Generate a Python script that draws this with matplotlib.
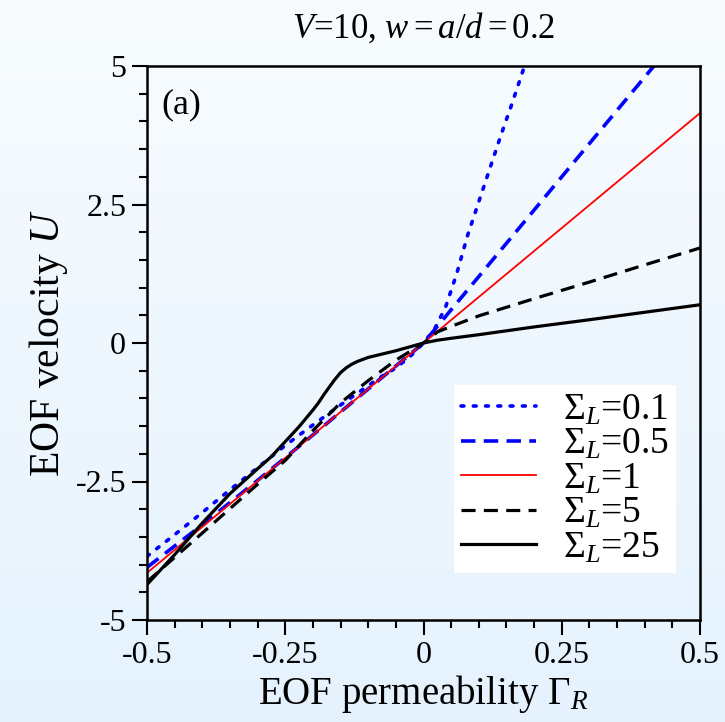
import numpy as np
import matplotlib
matplotlib.use("Agg")
import matplotlib.pyplot as plt
from matplotlib.ticker import FixedLocator, FixedFormatter, MultipleLocator

plt.rcParams['font.family'] = ['Liberation Serif', 'DejaVu Serif']
plt.rcParams['mathtext.fontset'] = 'custom'
plt.rcParams['mathtext.rm'] = 'Liberation Serif'
plt.rcParams['mathtext.it'] = 'Liberation Serif:italic'
plt.rcParams['axes.unicode_minus'] = False

# curves
x_s01 = [-0.5, -0.45, -0.4, -0.35, -0.3, -0.25, -0.2, -0.15, -0.1, -0.075, -0.05, -0.025, 0,
         0.02, 0.04, 0.06, 0.08, 0.10, 0.12, 0.14, 0.16, 0.18, 0.19]
u_s01 = [-3.85, -3.46, -3.06, -2.65, -2.25, -1.85, -1.48, -1.12, -0.77, -0.6, -0.45, -0.25, 0,
         0.25, 0.65, 1.25, 1.95, 2.55, 3.15, 3.75, 4.32, 4.92, 5.22]

x_s05 = [-0.5, -0.4, -0.3, -0.2, -0.1, 0, 0.1, 0.2, 0.3, 0.43]
u_s05 = [-4.05, -3.28, -2.48, -1.66, -0.83, 0, 1.2, 2.4, 3.6, 5.16]

x_s1 = [-0.5, 0, 0.5]
u_s1 = [-4.15, 0, 4.15]

x_s5 = [-0.5, -0.45, -0.4, -0.35, -0.3, -0.25, -0.2, -0.15, -0.1, -0.05, 0,
        0.025, 0.05, 0.1, 0.2, 0.3, 0.4, 0.5]
u_s5 = [-4.31, -3.87, -3.43, -2.99, -2.55, -2.12, -1.58, -1.08, -0.68, -0.31, 0,
        0.2, 0.3, 0.49, 0.8, 1.1, 1.41, 1.715]

x_s25 = [-0.5, -0.45, -0.4, -0.35, -0.3, -0.275, -0.25, -0.225, -0.2, -0.19, -0.18, -0.17,
         -0.16, -0.15, -0.14, -0.13, -0.12, -0.1, -0.075, -0.05, -0.025, 0,
         0.025, 0.05, 0.1, 0.2, 0.3, 0.4, 0.5]
u_s25 = [-4.36, -3.82, -3.25, -2.72, -2.27, -2.05, -1.78, -1.51, -1.21, -1.08, -0.93, -0.79,
         -0.655, -0.535, -0.45, -0.385, -0.335, -0.26, -0.2, -0.14, -0.07, 0,
         0.05, 0.085, 0.15, 0.29, 0.42, 0.555, 0.69]

sigma_labels = ['0.1', '0.5', '1', '5', '25']

x_ticks = [-0.5, -0.25, 0, 0.25, 0.5]
x_ticklabels = ['-0.5', '-0.25', '0', '0.25', '0.5']
y_ticks = [-5, -2.5, 0, 2.5, 5]
y_ticklabels = ['-5', '-2.5', '0', '2.5', '5']

fig = plt.figure(figsize=(7.25, 7.22), dpi=100)

# light blue background gradient over the whole figure
bg = fig.add_axes([0, 0, 1, 1], zorder=-1)
top = np.array([248, 252, 255]) / 255
bot = np.array([229, 242, 253]) / 255
t = np.linspace(0, 1, 256)[:, None]
grad = (top[None, :] * (1 - t) + bot[None, :] * t)[:, None, :]
bg.imshow(grad, aspect='auto', extent=[0, 1, 0, 1])
bg.axis('off')

ax = fig.add_axes([147 / 725, 1 - 620 / 722, 553 / 725, 554 / 722])
ax.set_facecolor('none')

ax.plot(x_s01, u_s01, color='#0000ff', lw=2.6, linestyle=(0, (0.8, 2.6)),
        dash_capstyle='round', label=r'$\Sigma_L$=' + sigma_labels[0])
ax.plot(x_s05, u_s05, color='#0000ff', lw=2.6, linestyle=(0, (4.0, 2.3)),
        label=r'$\Sigma_L$=' + sigma_labels[1])
ax.plot(x_s1, u_s1, color='#ff0000', lw=1.3, label=r'$\Sigma_L$=' + sigma_labels[2])
ax.plot(x_s5, u_s5, color='black', lw=2.3, linestyle=(0, (4.4, 2.6)),
        label=r'$\Sigma_L$=' + sigma_labels[3])
ax.plot(x_s25, u_s25, color='black', lw=2.3, label=r'$\Sigma_L$=' + sigma_labels[4])

ax.set_xlim(-0.5, 0.5)
ax.set_ylim(-5, 5)
ax.xaxis.set_major_locator(FixedLocator(x_ticks))
ax.xaxis.set_major_formatter(FixedFormatter(x_ticklabels))
ax.yaxis.set_major_locator(FixedLocator(y_ticks))
ax.yaxis.set_major_formatter(FixedFormatter(y_ticklabels))
ax.xaxis.set_minor_locator(MultipleLocator(0.05))
ax.yaxis.set_minor_locator(MultipleLocator(0.5))
ax.tick_params(which='both', direction='out', top=False, right=False, width=1.5,
               labelsize=23, pad=4)
ax.tick_params(which='major', length=11)
ax.tick_params(which='minor', length=6)
for s in ax.spines.values():
    s.set_linewidth(1.8)

ax.set_xlabel(r'EOF permeability $\Gamma_R$', fontsize=28, labelpad=2)
ax.set_ylabel(r'EOF velocity $U$', fontsize=30, labelpad=4)

fig.text(0.584, 1 - 38 / 722, r'$V$=10, $w = a/d = $0.2', fontsize=25,
         ha='center', va='baseline')
ax.text(0.026, 0.93, '(a)', transform=ax.transAxes, fontsize=26, va='center')

leg = ax.legend(loc='lower right', bbox_to_anchor=(0.957, 0.085), fontsize=27,
                frameon=True, fancybox=False, framealpha=1, edgecolor='white',
                handlelength=2.0, handletextpad=0.7, labelspacing=0.0,
                borderpad=0.2, borderaxespad=0)
leg.get_frame().set_linewidth(0)

fig.savefig('out.png', dpi=100)
